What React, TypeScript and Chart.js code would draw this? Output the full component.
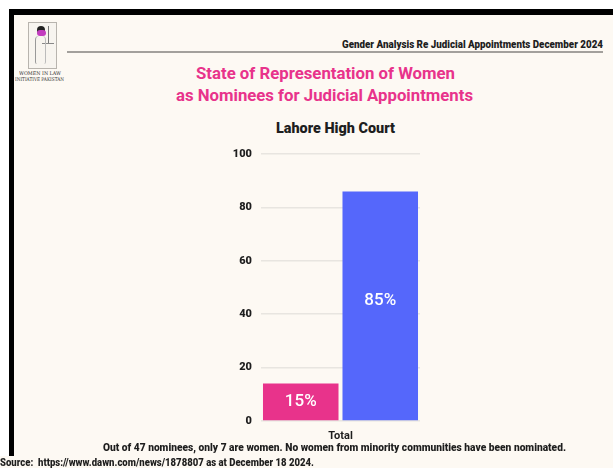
import { useEffect, useLayoutEffect, useRef } from "react";
import { Chart, registerables } from "chart.js";

Chart.register(...registerables);

// ---- data ----
const categories = ["Total"];
const seriesNames = ["Women", "Men"];
const womenValues = [14];
const menValues = [86];
const barLabels = ["15%", "85%"];
const yMin = 0;
const yMax = 100;
const yStep = 20;

const headerText = "Gender Analysis Re Judicial Appointments December 2024";
const titleLines = ["State of Representation of Women", "as Nominees for Judicial Appointments"];
const subtitleText = "Lahore High Court";
const footnoteText =
  "Out of 47 nominees, only 7 are women. No women from minority communities have been nominated.";
const sourceText = "Source:  https://www.dawn.com/news/1878807 as at December 18 2024.";
const logoLines = ["WOMEN IN LAW", "INITIATIVE PAKISTAN"];

const FONT = "Roboto, 'Noto Sans', sans-serif";
const PINK = "#e8338b";
const BLUE = "#5567fb";
const CREAM = "#fdf9f3";
const INK = "#1e1e1e";

type FitProps = {
  x: number;
  y: number;
  w: number;
  size: number;
  weight?: number;
  color?: string;
  text: string;
  family?: string;
};

function FitText({ x, y, w, size, weight = 700, color = INK, text, family = FONT }: FitProps) {
  const ref = useRef<HTMLDivElement>(null);
  useLayoutEffect(() => {
    const fit = () => {
      const el = ref.current;
      if (!el) return;
      el.style.transform = "none";
      const actual = el.getBoundingClientRect().width;
      if (actual > 0) el.style.transform = `scaleX(${w / actual})`;
    };
    fit();
    if ((document as any).fonts && (document as any).fonts.ready) {
      (document as any).fonts.ready.then(fit);
    }
  }, [w, text, size]);
  return (
    <div
      ref={ref}
      style={{
        position: "absolute",
        left: x,
        top: y - size / 2,
        fontFamily: family,
        fontSize: size,
        fontWeight: weight,
        lineHeight: `${size}px`,
        color,
        whiteSpace: "pre",
        transformOrigin: "left center",
        display: "inline-block",
      }}
    >
      {text}
    </div>
  );
}

export default function App() {
  const canvasRef = useRef<HTMLCanvasElement>(null);

  useEffect(() => {
    if (!canvasRef.current) return;
    const labelPlugin = {
      id: "barLabels",
      afterDatasetsDraw(chart: any) {
        const ctx = chart.ctx;
        ctx.save();
        ctx.fillStyle = "#ffffff";
        ctx.font = `500 17px ${FONT}`;
        ctx.textAlign = "center";
        ctx.textBaseline = "middle";
        chart.data.datasets.forEach((_: any, di: number) => {
          const meta = chart.getDatasetMeta(di);
          meta.data.forEach((bar: any) => {
            const { x, y, base } = bar.getProps(["x", "y", "base"], true);
            ctx.fillText(barLabels[di], x, (y + base) / 2 - (di === 1 ? 5 : 0));
          });
        });
        ctx.restore();
      },
    };

    const chart = new Chart(canvasRef.current, {
      type: "bar",
      data: {
        labels: categories,
        datasets: [
          {
            label: seriesNames[0],
            data: womenValues,
            backgroundColor: PINK,
            barPercentage: 0.95,
            categoryPercentage: 1.0,
          },
          {
            label: seriesNames[1],
            data: menValues,
            backgroundColor: BLUE,
            barPercentage: 0.95,
            categoryPercentage: 1.0,
          },
        ],
      },
      options: {
        animation: false,
        responsive: false,
        layout: { padding: { left: 200, right: 193, top: 154, bottom: 27 } },
        plugins: {
          legend: { display: false },
          tooltip: { enabled: false },
          title: { display: false },
        },
        scales: {
          x: {
            grid: { display: false, drawTicks: false },
            border: { display: false },
            ticks: { color: INK, font: { family: FONT, size: 11, weight: "bold" }, padding: 9 },
            afterFit: (s: any) => {
              s.height = 20;
            },
          },
          y: {
            min: yMin,
            max: yMax,
            grid: { color: "#e8e5e0", lineWidth: 1.5, drawTicks: false },
            border: { display: false },
            ticks: {
              stepSize: yStep,
              color: INK,
              font: { family: FONT, size: 11, weight: "900" },
              padding: 9,
            },
            afterFit: (s: any) => {
              s.width = 61;
            },
          },
        },
      },
      plugins: [labelPlugin],
    });
    return () => chart.destroy();
  }, []);

  return (
    <div
      style={{
        position: "fixed",
        left: 0,
        top: 0,
        width: 613,
        height: 468,
        background: "#ffffff",
        overflow: "hidden",
      }}
    >
      {/* black frame */}
      <div style={{ position: "absolute", left: 9, top: 9, width: 604, height: 6, background: "#000" }} />
      <div style={{ position: "absolute", left: 9, top: 9, width: 5, height: 447, background: "#000" }} />
      {/* cream panel */}
      <div style={{ position: "absolute", left: 14, top: 15, width: 599, height: 441, background: CREAM }} />
      <div style={{ position: "absolute", left: 0, top: 456, width: 613, height: 12, background: CREAM }} />

      {/* logo */}
      <div
        style={{
          position: "absolute",
          left: 28,
          top: 22,
          width: 27,
          height: 45,
          border: "1px solid #b8b4ae",
          background: "#f7f4ef",
        }}
      >
        <div style={{ position: "absolute", left: 8, top: 3, width: 8, height: 8, borderRadius: 4, background: "#222" }} />
        <div style={{ position: "absolute", left: 8, top: 7, width: 9, height: 6, borderRadius: 3, background: "#c23cbf" }} />
        <div style={{ position: "absolute", left: 19, top: 3, width: 1, height: 18, background: "#777" }} />
        <div style={{ position: "absolute", left: 13, top: 20, width: 12, height: 1, background: "#888" }} />
        <div style={{ position: "absolute", left: 6, top: 13, width: 9, height: 28, borderLeft: "1px solid #999", borderRight: "1px solid #bbb", borderRadius: "4px 4px 2px 2px" }} />
      </div>
      <FitText x={19} y={73} w={42} size={5} weight={400} family="'DejaVu Serif', serif" color="#333" text={logoLines[0]} />
      <FitText x={15} y={79} w={49} size={5} weight={400} family="'DejaVu Serif', serif" color="#333" text={logoLines[1]} />

      {/* header */}
      <FitText x={342} y={45} w={261} size={10} weight={900} text={headerText} />
      <div style={{ position: "absolute", left: 67, top: 51, width: 536, height: 2, background: "#a3a09c" }} />

      {/* titles */}
      <FitText x={196} y={73} w={259} size={17} weight={700} color={PINK} text={titleLines[0]} />
      <FitText x={176} y={95} w={297} size={17} weight={700} color={PINK} text={titleLines[1]} />
      <FitText x={276} y={128} w={119} size={14} weight={900} text={subtitleText} />

      <canvas
        ref={canvasRef}
        width={613}
        height={468}
        style={{ position: "absolute", left: 0, top: 0, width: 613, height: 468 }}
      />

      {/* footnotes */}
      <FitText x={103} y={448} w={463} size={10} weight={900} text={footnoteText} />
      <FitText x={0} y={463} w={314} size={10} weight={900} text={sourceText} />
    </div>
  );
}
